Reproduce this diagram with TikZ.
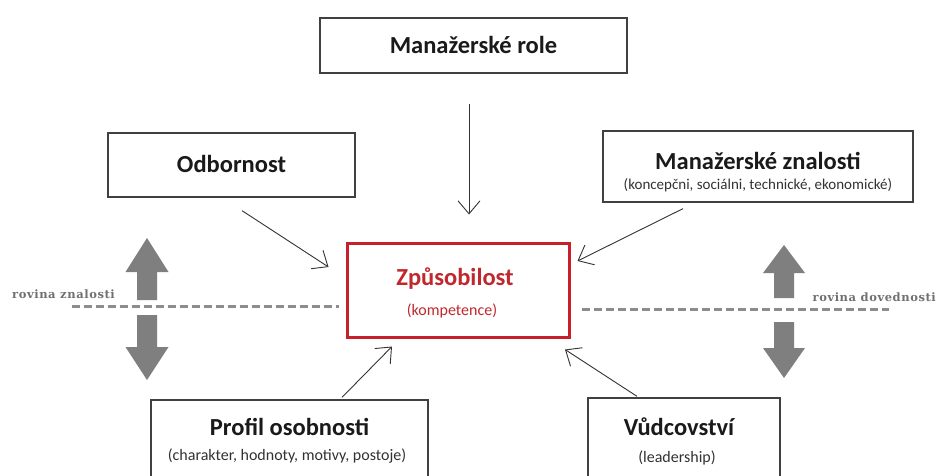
\documentclass[tikz,border=0pt]{standalone}
\usepackage{fontspec}
\setmainfont{Carlito}
\newfontfamily\labelfont{DejaVu Serif}[LetterSpace=5]
\usetikzlibrary{arrows.meta,calc}
\definecolor{boxgray}{RGB}{64,64,64}
\definecolor{redc}{RGB}{200,32,42}
\definecolor{redt}{RGB}{192,40,45}
\definecolor{bigarrow}{RGB}{127,127,127}
\definecolor{dashc}{RGB}{140,140,140}
\definecolor{lblc}{RGB}{112,112,112}
\definecolor{txt}{RGB}{26,26,26}
\definecolor{subtxt}{RGB}{50,50,50}
\begin{document}
\begin{tikzpicture}[x=1pt,y=-1pt,
  box/.style={draw=boxgray,line width=1.3pt,fill=white,inner sep=0pt,rectangle},
  redbox/.style={draw=redc,line width=3pt,fill=white,inner sep=0pt,rectangle},
  title/.style={anchor=base,inner sep=0pt,text=txt,font=\fontsize{24.5}{26}\selectfont\bfseries},
  sub/.style={anchor=base,inner sep=0pt,text=subtxt,font=\fontsize{16}{18}\selectfont},
  lbl/.style={inner sep=0pt,text=lblc,font=\labelfont\bfseries\fontsize{11.5}{14}\selectfont},
  conn/.style={draw=black!80,line width=0.9pt,-{Straight Barb[length=13pt,width=22pt,line width=0.9pt]}},
  dashline/.style={draw=dashc,line width=3pt,dash pattern=on 8pt off 4pt},
  bigarr/.style={fill=bigarrow,draw=none}
]
\useasboundingbox (0,0) rectangle (936,476);
\clip (0,0) rectangle (936,476);
\fill[white] (0,0) rectangle (936,476);

% boxes
\node[box,minimum width=307pt,minimum height=55pt] (role) at (473.5,45.5) {};
\node[title] (roleT) at (473.5,54) {Manažerské role};

\node[box,minimum width=247pt,minimum height=64pt] (odb) at (231.5,165) {};
\node[title] (odbT) at (231.5,172) {Odbornost};

\node[box,minimum width=310pt,minimum height=71pt] (zn) at (758,166.5) {};
\node[title] (znT) at (758,169) {Manažerské znalosti};
\node[sub,font=\fontsize{15}{17}\selectfont] (znS) at (758,189) {(koncepčni, sociálni, technické, ekonomické)};

\node[redbox,minimum width=222pt,minimum height=94pt] (zp) at (458,290) {};
\node[title,text=redt] (zpT) at (455,285) {Způsobilost};
\node[sub,text=redt] (zpS) at (452,315) {(kompetence)};

\node[box,minimum width=277pt,minimum height=100pt] (prof) at (289.5,450) {};
\node[title] (profT) at (289.5,435) {Profil osobnosti};
\node[sub] (profS) at (287,460) {(charakter, hodnoty, motivy, postoje)};

\node[box,minimum width=192pt,minimum height=100pt] (vud) at (684,448) {};
\node[title] (vudT) at (679,435) {Vůdcovství};
\node[sub] (vudS) at (677,462) {(leadership)};

% connectors
\draw[conn] ($(role.south)+(-4.5,30)$) -- ($(zp.north)+(11,-27)$);
\draw[conn] ($(odb.south)+(10.5,13)$) -- ($(zp.west)+(-17,-23)$);
\draw[conn] ($(zn.south)+(-75,6)$) -- ($(zp.east)+(7,-29)$);
\draw[conn] ($(prof.north)+(52.5,-2)$) -- ($(zp.south)+(-66,8)$);
\draw[conn] ($(vud.north)+(-47,-1)$) -- ($(zp.south)+(107,11)$);

% dashed levels
\draw[dashline] ($(zp.west)+(-274,16)$) -- ($(zp.west)+(-7,16)$);
\draw[dashline] ($(zp.east)+(11,19)$) -- ($(zp.east)+(318,19)$);

% big gray arrows (left)
\fill[bigarr] (147,238) -- (168.5,272) -- (157,272) -- (157,300) -- (137,300) -- (137,272) -- (125.5,272) -- cycle;
\fill[bigarr] (147,380) -- (168.5,347) -- (157,347) -- (157,315) -- (137,315) -- (137,347) -- (125.5,347) -- cycle;
% big gray arrows (right)
\fill[bigarr] (784,245) -- (805,273) -- (794,273) -- (794,298) -- (774,298) -- (774,273) -- (763,273) -- cycle;
\fill[bigarr] (784,378) -- (805,348) -- (794,348) -- (794,322) -- (774,322) -- (774,348) -- (763,348) -- cycle;

% level labels
\node[lbl,anchor=base west] (lz) at (12,298) {rovina znalosti};
\node[lbl,anchor=base east] (ld) at (936,301) {rovina dovednosti};
\end{tikzpicture}
\end{document}
